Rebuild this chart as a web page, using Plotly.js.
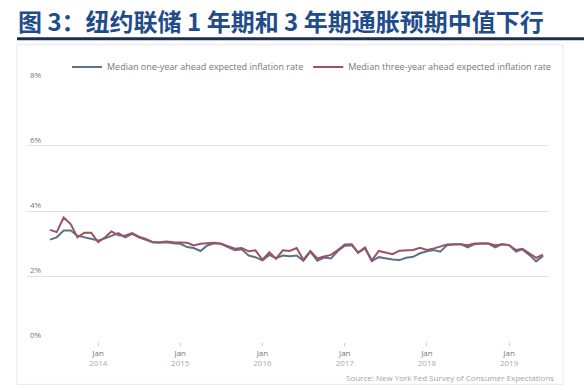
<!DOCTYPE html>
<html>
<head>
<meta charset="utf-8">
<script src="https://cdn.plot.ly/plotly-3.0.1.min.js"></script>
<style>html,body{margin:0;padding:0;background:#fff;}#chart{width:584px;height:390px;}</style>
</head>
<body>
<div id="chart"></div>
<script>
// Monthly observations, June 2013 - June 2019
var startYear = 2013, startMonth = 6;
var oneYear = [3.12,3.19,3.40,3.40,3.24,3.19,3.14,3.09,3.16,3.24,3.32,3.19,3.30,3.19,3.12,3.04,3.02,3.04,3.01,2.99,2.89,2.86,2.77,2.94,3.01,2.99,2.89,2.79,2.82,2.63,2.58,2.48,2.65,2.55,2.63,2.61,2.63,2.47,2.75,2.47,2.57,2.54,2.77,2.93,2.95,2.72,2.85,2.46,2.58,2.54,2.51,2.49,2.56,2.59,2.70,2.76,2.80,2.75,2.95,2.97,2.98,2.88,2.98,3.00,3.00,2.88,2.98,2.95,2.75,2.82,2.65,2.45,2.62];
var threeYear = [3.42,3.35,3.80,3.60,3.19,3.33,3.33,3.04,3.19,3.37,3.25,3.24,3.32,3.21,3.14,3.04,3.04,3.06,3.04,3.02,3.02,2.94,2.99,3.01,3.02,2.99,2.92,2.84,2.86,2.76,2.79,2.50,2.73,2.53,2.79,2.77,2.86,2.50,2.77,2.54,2.60,2.65,2.80,2.97,2.98,2.72,2.88,2.48,2.77,2.72,2.67,2.78,2.80,2.80,2.87,2.80,2.85,2.90,2.97,2.98,2.98,2.95,3.00,3.00,3.00,2.95,2.98,2.95,2.80,2.84,2.70,2.56,2.66];
var seriesNames = ["Median one-year ahead expected inflation rate","Median three-year ahead expected inflation rate"];
var xTickYears = ["2014","2015","2016","2017","2018","2019"];
var yTickValues = [0,2,4,6,8];
var titleText = "图 3：纽约联储 1 年期和 3 年期通胀预期中值下行";
var sourceText = "Source: New York Fed Survey of Consumer Expectations";

function monthDates(n){
  var out=[];
  for(var i=0;i<n;i++){
    var m = startMonth-1+i;
    var y = startYear + Math.floor(m/12);
    var mm = (m%12)+1;
    out.push(y+"-"+(mm<10?"0":"")+mm+"-01");
  }
  return out;
}
var dates = monthDates(oneYear.length);
var tickVals = xTickYears.map(function(y){return y+"-01-01";});
var tickText = xTickYears.map(function(y){return '<span style="color:#777">Jan</span><br><span style="color:#aaa">'+y+'</span>';});

var traces = [
  {x:dates,y:oneYear,name:seriesNames[0],type:'scatter',mode:'lines',line:{color:'#5d7286',width:2}},
  {x:dates,y:threeYear,name:seriesNames[1],type:'scatter',mode:'lines',line:{color:'#9c5262',width:2}}
];

var layout = {
  width:584,height:390,
  margin:{l:27,r:36,t:80,b:48},
  paper_bgcolor:'#fff',plot_bgcolor:'#fff',
  font:{family:'"Open Sans", "Noto Sans", sans-serif',color:'#777',size:8},
  title:{text:'<b>'+titleText+'</b>',x:18/584,xanchor:'left',xref:'container',y:1-23/390,yanchor:'middle',yref:'container',
    font:{family:'"Noto Sans CJK SC", sans-serif',size:24,color:'#1f4c8a'}},
  showlegend:true,
  legend:{orientation:'h',x:(556-27)/521,xanchor:'right',y:1+(81-68)/260,yanchor:'middle',
    font:{size:9,color:'#777'},itemwidth:30,tracegroupgap:0,bgcolor:'rgba(0,0,0,0)'},
  xaxis:{type:'date',range:['2013-02-19','2019-06-23'],tickvals:tickVals,ticktext:tickText,
    showgrid:false,zeroline:false,showline:false,ticks:'outside',ticklen:3,tickcolor:'#ccc',
    tickfont:{size:8,color:'#777'}},
  yaxis:{range:[-0.03,8.03],tickvals:yTickValues,ticktext:yTickValues.map(function(v){return v+'%';}),
    ticklabelposition:'inside top',ticklabeloverflow:'allow',showgrid:true,gridcolor:'#e3e3e3',gridwidth:1,zeroline:false,
    showline:false,ticks:'',tickfont:{size:8,color:'#777'}},
  shapes:[
    {type:'rect',xref:'paper',yref:'paper',x0:(17-27)/521,x1:(563-27)/521,y0:(341-383)/260,y1:(341-46)/260,
      line:{color:'#e8e8e8',width:1},fillcolor:'rgba(0,0,0,0)',layer:'below'},
    {type:'line',xref:'paper',yref:'paper',x0:(17-27)/521,x1:(584-27)/521,y0:(341-40)/260,y1:(341-40)/260,
      line:{color:'#1c2e4f',width:3}}
  ],
  annotations:[
    {text:sourceText,xref:'paper',yref:'paper',x:(556-27)/521,xanchor:'right',y:(341-376)/260,yanchor:'middle',
      showarrow:false,font:{size:8,color:'#a5a5a5'}}
  ]
};
Plotly.newPlot('chart',traces,layout,{displayModeBar:false,staticPlot:true});
</script>
</body>
</html>
